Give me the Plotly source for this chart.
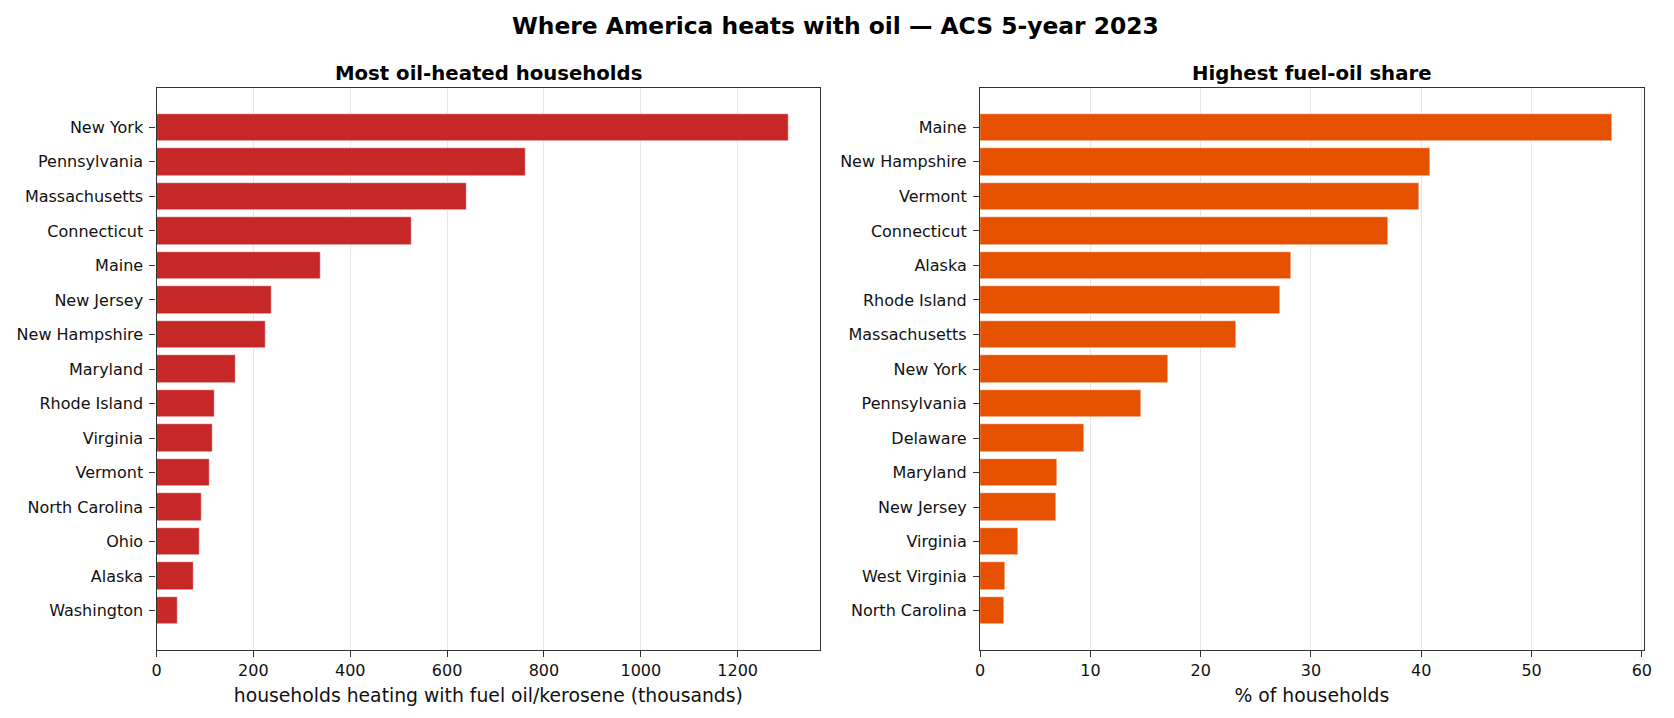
import plotly.graph_objects as go

# ---- data ----
left_states = ["New York", "Pennsylvania", "Massachusetts", "Connecticut", "Maine",
               "New Jersey", "New Hampshire", "Maryland", "Rhode Island", "Virginia",
               "Vermont", "North Carolina", "Ohio", "Alaska", "Washington"]
left_values = [1305, 761, 640, 526, 338, 237, 226, 164, 119, 115, 109, 92, 88, 76, 43]

right_states = ["Maine", "New Hampshire", "Vermont", "Connecticut", "Alaska",
                "Rhode Island", "Massachusetts", "New York", "Pennsylvania", "Delaware",
                "Maryland", "New Jersey", "Virginia", "West Virginia", "North Carolina"]
right_values = [57.3, 40.8, 39.8, 37.0, 28.2, 27.2, 23.2, 17.0, 14.6, 9.4,
                6.95, 6.85, 3.4, 2.25, 2.17]

suptitle = "Where America heats with oil \u2014 ACS 5-year 2023"
left_title = "Most oil-heated households"
right_title = "Highest fuel-oil share"
left_xlabel = "households heating with fuel oil/kerosene (thousands)"
right_xlabel = "% of households"

# ---- layout constants ----
W, H = 1674, 718
FONT = "DejaVu Sans"
RED = "#c62828"
ORANGE = "#e65100"
FRAME = "#333333"
GRID = "rgba(176,176,176,0.3)"


def px_x(p):
    return p / W


def px_y(p):
    return 1 - p / H


top, bottom = 88, 650
ydom = [px_y(bottom), px_y(top)]

fig = go.Figure()
fig.add_trace(go.Bar(x=left_values, y=left_states, orientation="h", width=0.8,
                     marker=dict(color=RED, line=dict(color="white", width=0.5)),
                     xaxis="x", yaxis="y", showlegend=False))
fig.add_trace(go.Bar(x=right_values, y=right_states, orientation="h", width=0.8,
                     marker=dict(color=ORANGE, line=dict(color="white", width=0.5)),
                     xaxis="x2", yaxis="y2", showlegend=False))

n = len(left_states)
yrange = [n - 1 + 1.14, -1.14]


def xaxis(domain, rng, dtick, title, anchor):
    return dict(domain=domain, range=rng, dtick=dtick, tick0=0, anchor=anchor,
                showgrid=True, gridcolor=GRID, gridwidth=1.2, zeroline=False,
                showline=True, linecolor=FRAME, linewidth=1.3, mirror=True,
                ticks="outside", ticklen=6, tickwidth=1.2, tickcolor=FRAME,
                ticklabelstandoff=0,
                tickfont=dict(family=FONT, size=16, color="#111111"),
                title=dict(text=title, font=dict(family=FONT, size=18.8, color="#111111"),
                           standoff=9),
                layer="above traces", fixedrange=True)


def yaxis(rng, anchor):
    return dict(domain=ydom, range=rng, anchor=anchor, type="category",
                showgrid=False, zeroline=False,
                showline=True, linecolor=FRAME, linewidth=1.3, mirror=True,
                ticks="outside", ticklen=6, tickwidth=1.2, tickcolor=FRAME,
                ticklabelstandoff=3,
                tickfont=dict(family=FONT, size=16, color="#111111"),
                fixedrange=True)


fig.update_layout(
    width=W, height=H,
    margin=dict(l=0, r=0, t=0, b=0),
    paper_bgcolor="white", plot_bgcolor="white",
    bargap=0,
    xaxis=xaxis([px_x(152.7), px_x(821.5)], [0, max(left_values) * 1.05], 200, left_xlabel, "y"),
    yaxis=yaxis(yrange, "x"),
    xaxis2=xaxis([px_x(982.7), px_x(1651.5)], [0, max(right_values) * 1.05], 10, right_xlabel, "y2"),
    yaxis2=yaxis(yrange, "x2"),
    annotations=[
        dict(text="<b>%s</b>" % suptitle, x=0.5, y=px_y(25.5), xref="paper", yref="paper",
             xanchor="center", yanchor="middle", showarrow=False,
             font=dict(family=FONT, size=23.4, color="#000000")),
        dict(text="<b>%s</b>" % left_title, x=px_x((152.7 + 821.5) / 2), y=px_y(73),
             xref="paper", yref="paper", xanchor="center", yanchor="middle", showarrow=False,
             font=dict(family=FONT, size=19.7, color="#000000")),
        dict(text="<b>%s</b>" % right_title, x=px_x((982.7 + 1651.5) / 2), y=px_y(73),
             xref="paper", yref="paper", xanchor="center", yanchor="middle", showarrow=False,
             font=dict(family=FONT, size=19.7, color="#000000")),
    ],
)

fig.write_html("out.html")
